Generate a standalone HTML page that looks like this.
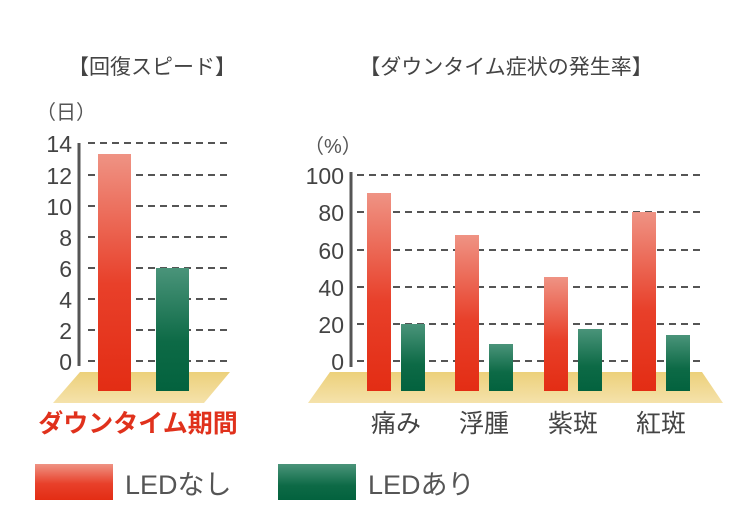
<!DOCTYPE html>
<html><head><meta charset="utf-8"><style>
html,body{margin:0;padding:0;background:#fff}
svg{display:block}
text{font-family:"Liberation Sans","Noto Sans CJK JP",sans-serif}
</style></head><body>
<svg width="750" height="530" viewBox="0 0 750 530" xmlns="http://www.w3.org/2000/svg">
<defs>
<linearGradient id="r" x1="0" y1="0" x2="0" y2="1"><stop offset="0" stop-color="#ef9384"/><stop offset="0.55" stop-color="#e8402a"/><stop offset="1" stop-color="#e32d14"/></linearGradient>
<linearGradient id="g" x1="0" y1="0" x2="0" y2="1"><stop offset="0" stop-color="#4a947a"/><stop offset="0.6" stop-color="#0d6a46"/><stop offset="1" stop-color="#03623e"/></linearGradient>
<linearGradient id="fl" x1="0" y1="0" x2="0" y2="1"><stop offset="0" stop-color="#ecd07a"/><stop offset="1" stop-color="#f5e2ab"/></linearGradient>
</defs>
<text x="152" y="74" font-size="21" fill="#444" text-anchor="middle">【回復スピード】</text>
<text x="506" y="74" font-size="21" fill="#444" text-anchor="middle">【ダウンタイム症状の発生率】</text>

<!-- left chart -->
<text x="36" y="119" font-size="20" fill="#555">（日）</text>
<polygon points="80,372 230,372 204,403 53,403" fill="url(#fl)"/>
<g stroke="#555" stroke-width="2" stroke-dasharray="7,5">
<line x1="88" x2="232" y1="143" y2="143"/><line x1="88" x2="232" y1="175" y2="175"/><line x1="88" x2="232" y1="206" y2="206"/><line x1="88" x2="232" y1="237" y2="237"/><line x1="88" x2="232" y1="268" y2="268"/><line x1="88" x2="232" y1="299" y2="299"/><line x1="88" x2="232" y1="330" y2="330"/><line x1="88" x2="232" y1="361" y2="361"/>
</g>
<line x1="79" x2="79" y1="143" y2="366" stroke="#555" stroke-width="3"/>
<g font-size="23" fill="#444" text-anchor="end">
<text x="72" y="152">14</text><text x="72" y="184">12</text><text x="72" y="215">10</text><text x="72" y="246">8</text><text x="72" y="277">6</text><text x="72" y="308">4</text><text x="72" y="339">2</text><text x="72" y="370">0</text>
</g>
<rect x="98" y="154" width="33" height="237" fill="url(#r)"/>
<rect x="156" y="268" width="33" height="123" fill="url(#g)"/>
<text x="138" y="432" font-size="25" font-weight="bold" fill="#e0311c" text-anchor="middle">ダウンタイム期間</text>

<!-- right chart -->
<text x="304" y="153" font-size="20" fill="#555">（%）</text>
<polygon points="330,372 702,372 723,403 308,403" fill="url(#fl)"/>
<g stroke="#555" stroke-width="2" stroke-dasharray="7,5">
<line x1="357" x2="702" y1="175" y2="175"/><line x1="357" x2="702" y1="212" y2="212"/><line x1="357" x2="702" y1="250" y2="250"/><line x1="357" x2="702" y1="287" y2="287"/><line x1="357" x2="702" y1="324" y2="324"/><line x1="357" x2="702" y1="361" y2="361"/>
</g>
<line x1="351" x2="351" y1="172" y2="367" stroke="#555" stroke-width="3"/>
<g font-size="23" fill="#444" text-anchor="end">
<text x="344" y="184">100</text><text x="344" y="221">80</text><text x="344" y="259">60</text><text x="344" y="296">40</text><text x="344" y="333">20</text><text x="344" y="370">0</text>
</g>
<rect x="367" y="193" width="24" height="198" fill="url(#r)"/>
<rect x="401" y="324" width="24" height="67" fill="url(#g)"/>
<rect x="455" y="235" width="24" height="156" fill="url(#r)"/>
<rect x="489" y="344" width="24" height="47" fill="url(#g)"/>
<rect x="544" y="277" width="24" height="114" fill="url(#r)"/>
<rect x="578" y="329" width="24" height="62" fill="url(#g)"/>
<rect x="632" y="212" width="24" height="179" fill="url(#r)"/>
<rect x="666" y="335" width="24" height="56" fill="url(#g)"/>
<g font-size="25" fill="#444" text-anchor="middle">
<text x="396" y="432">痛み</text><text x="484" y="432">浮腫</text><text x="573" y="432">紫斑</text><text x="661" y="432">紅斑</text>
</g>

<!-- legend -->
<rect x="35" y="464" width="78" height="36" fill="url(#r)"/>
<text x="125" y="494" font-size="27" fill="#555">LEDなし</text>
<rect x="278" y="464" width="78" height="36" fill="url(#g)"/>
<text x="368" y="494" font-size="27" fill="#555">LEDあり</text>
</svg>
</body></html>
